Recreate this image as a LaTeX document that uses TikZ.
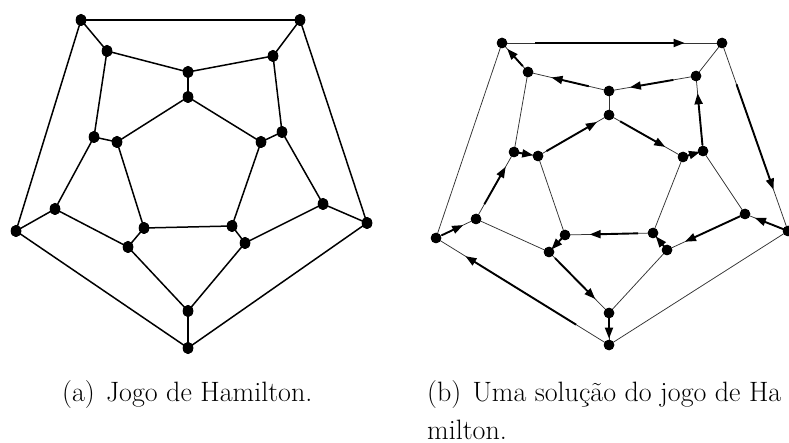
\documentclass[tikz,border=0pt]{standalone}
\usepackage{fontspec}
\usetikzlibrary{shapes.geometric,arrows.meta,calc}
\tikzset{
  dota/.style={ellipse,fill=black,draw=none,inner sep=0pt,minimum width=10.5pt,minimum height=12pt},
  dotb/.style={circle,fill=black,draw=none,inner sep=0pt,minimum size=10.5pt},
  edgea/.style={line width=1.5pt,black},
  edgeb/.style={line width=0.75pt,black!80},
  arrowseg/.style={line width=1.9pt,black,-{Triangle[length=11pt,width=8pt]}},
  captext/.style={anchor=base west,inner sep=0pt,font=\fontsize{28}{34}\selectfont}
}
\newcommand{\harr}[4]{\draw[arrowseg] ($(#1.center)!#3!(#2.center)$) -- ($(#1.center)!#4!(#2.center)$);}
\begin{document}
\begin{tikzpicture}[x=1pt,y=-1pt]
\useasboundingbox (0,0) rectangle (789,443);
\clip (0,0) rectangle (789,443);
% ---------- graph (a) ----------
\node[dota] (a1) at (81,20) {};
\node[dota] (a2) at (300,20) {};
\node[dota] (a3) at (367,223) {};
\node[dota] (a4) at (188,348) {};
\node[dota] (a5) at (16,231) {};
\node[dota] (am1) at (107,51) {};
\node[dota] (am2) at (188,72) {};
\node[dota] (am3) at (273,56) {};
\node[dota] (am4) at (282,132) {};
\node[dota] (am5) at (323,204) {};
\node[dota] (am6) at (245,243) {};
\node[dota] (am7) at (188,311) {};
\node[dota] (am8) at (128,247) {};
\node[dota] (am9) at (55,209) {};
\node[dota] (am10) at (94,137) {};
\node[dota] (ai1) at (188,97) {};
\node[dota] (ai2) at (261,142) {};
\node[dota] (ai3) at (232,226) {};
\node[dota] (ai4) at (144,228) {};
\node[dota] (ai5) at (117,142) {};
\foreach \u/\v in {a1/a2,a2/a3,a3/a4,a4/a5,a5/a1,
  a1/am1,a2/am3,a3/am5,a4/am7,a5/am9,
  am1/am2,am2/am3,am3/am4,am4/am5,am5/am6,am6/am7,am7/am8,am8/am9,am9/am10,am10/am1,
  am2/ai1,am4/ai2,am6/ai3,am8/ai4,am10/ai5,
  ai1/ai2,ai2/ai3,ai3/ai4,ai4/ai5,ai5/ai1}
  \draw[edgea] (\u.center) -- (\v.center);
\foreach \n in {a1,a2,a3,a4,a5,am1,am2,am3,am4,am5,am6,am7,am8,am9,am10,ai1,ai2,ai3,ai4,ai5}
  \node[dota] at (\n) {};
% ---------- graph (b) ----------
\node[dotb] (b1) at (502,43) {};
\node[dotb] (b2) at (722,43) {};
\node[dotb] (b3) at (788,231) {};
\node[dotb] (b4) at (609,345) {};
\node[dotb] (b5) at (436,238) {};
\node[dotb] (bm1) at (528,72) {};
\node[dotb] (bm2) at (609,91) {};
\node[dotb] (bm3) at (696,76) {};
\node[dotb] (bm4) at (703,151) {};
\node[dotb] (bm5) at (745,214) {};
\node[dotb] (bm6) at (667,250) {};
\node[dotb] (bm7) at (609,313) {};
\node[dotb] (bm8) at (549,252) {};
\node[dotb] (bm9) at (476,219) {};
\node[dotb] (bm10) at (514,152) {};
\node[dotb] (bi1) at (609,115) {};
\node[dotb] (bi2) at (683,157) {};
\node[dotb] (bi3) at (653,233) {};
\node[dotb] (bi4) at (565,235) {};
\node[dotb] (bi5) at (538,156) {};
\foreach \u/\v in {b1/b2,b2/b3,b3/b4,b4/b5,b5/b1,
  b1/bm1,b2/bm3,b3/bm5,b4/bm7,b5/bm9,
  bm1/bm2,bm2/bm3,bm3/bm4,bm4/bm5,bm5/bm6,bm6/bm7,bm7/bm8,bm8/bm9,bm9/bm10,bm10/bm1,
  bm2/bi1,bm4/bi2,bm6/bi3,bm8/bi4,bm10/bi5,
  bi1/bi2,bi2/bi3,bi3/bi4,bi4/bi5,bi5/bi1}
  \draw[edgeb] (\u.center) -- (\v.center);
% Hamiltonian cycle arrows
\harr{b1}{b2}{0.15}{0.83}
\harr{b2}{b3}{0.22}{0.78}
\harr{b3}{bm5}{0.05}{0.77}
\harr{bm5}{bm6}{0.06}{0.77}
\harr{bm6}{bi3}{0.1}{0.8}
\harr{bi3}{bi4}{0.17}{0.72}
\harr{bi4}{bm8}{0.2}{0.85}
\harr{bm8}{bm7}{0.1}{0.77}
\harr{bm7}{b4}{0.12}{0.8}
\harr{b4}{b5}{0.19}{0.83}
\harr{b5}{bm9}{0.14}{0.68}
\harr{bm9}{bm10}{0.22}{0.78}
\harr{bm10}{bi5}{0.2}{0.8}
\harr{bi5}{bi1}{0.12}{0.83}
\harr{bi1}{bi2}{0.15}{0.76}
\harr{bi2}{bm4}{0.2}{0.85}
\harr{bm4}{bm3}{0.08}{0.77}
\harr{bm3}{bm2}{0.26}{0.76}
\harr{bm2}{bm1}{0.25}{0.71}
\harr{bm1}{b1}{0.2}{0.8}
\foreach \n in {b1,b2,b3,b4,b5,bm1,bm2,bm3,bm4,bm5,bm6,bm7,bm8,bm9,bm10,bi1,bi2,bi3,bi4,bi5}
  \node[dotb] at (\n) {};
% ---------- captions ----------
\node[captext] (capa) at (62,401) {(a)\hspace{0.4em}Jogo de Hamilton.};
\node[captext] (capb) at (427,401) {(b)\hspace{0.4em}Uma solução do jogo de Ha};
\node[captext] (capb2) at (427,439) {milton.};
\end{tikzpicture}
\end{document}
